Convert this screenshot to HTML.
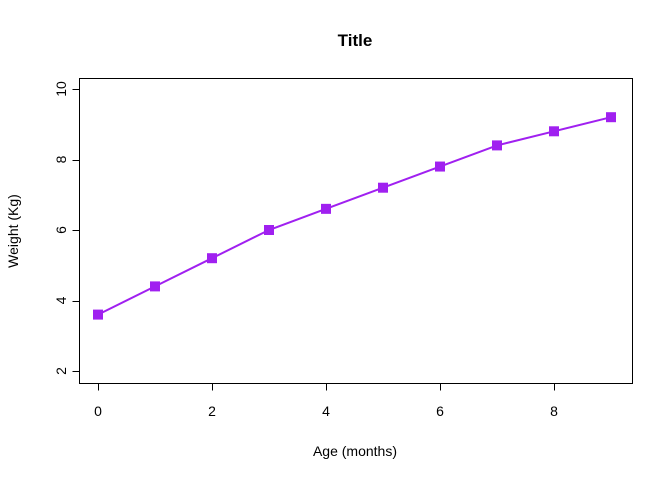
<!DOCTYPE html>
<html>
<head>
<meta charset="utf-8">
<style>
  html, body { margin: 0; padding: 0; background: #fff; }
  svg { display: block; font-family: "Liberation Sans", Arial, sans-serif; }
</style>
</head>
<body>
<svg id="chart" width="672" height="480" viewBox="0 0 672 480" xmlns="http://www.w3.org/2000/svg">
  <rect x="0" y="0" width="672" height="480" fill="#ffffff"/>
  <text x="355" y="46" text-anchor="middle" font-size="17" font-weight="bold" fill="#000">Title</text>
  <rect x="79.5" y="78.5" width="553" height="305" fill="none" stroke="#000" stroke-width="1"/>
  <text x="355" y="456" text-anchor="middle" font-size="14" fill="#000">Age (months)</text>
  <text transform="translate(18,231) rotate(-90)" text-anchor="middle" font-size="14" fill="#000">Weight (Kg)</text>
  <g id="axes"></g>
  <g id="series"></g>
</svg>
<script>
const ages = [0, 1, 2, 3, 4, 5, 6, 7, 8, 9];
const weights = [3.6, 4.4, 5.2, 6.0, 6.6, 7.2, 7.8, 8.4, 8.8, 9.2];
const xTicks = [0, 2, 4, 6, 8];
const yTicks = [2, 4, 6, 8, 10];

const NS = "http://www.w3.org/2000/svg";
function xScale(v) { return 98 + v * 57; }
function yScale(v) { return 371 - (v - 2) * 35.25; }
function mk(tag, attrs, parent) {
  const el = document.createElementNS(NS, tag);
  for (const k in attrs) el.setAttribute(k, attrs[k]);
  parent.appendChild(el);
  return el;
}
const axes = document.getElementById('axes');
const series = document.getElementById('series');

// x axis
const xAxis = mk('g', {}, axes);


mk('line', {x1: xScale(xTicks[0]), x2: xScale(xTicks[xTicks.length - 1]), y1: 383.5, y2: 383.5, stroke: '#000'}, xAxis);
xTicks.forEach(t => {
  const x = Math.round(xScale(t)) + 0.5;
  const tick = mk('line', {x1: x, x2: x, y1: 383.5, y2: 390.5, stroke: '#000'}, xAxis);
  
  
  const lab = mk('text', {x: xScale(t), y: 416, 'text-anchor': 'middle', 'font-size': 14, fill: '#000'}, xAxis);
  lab.textContent = t;
  
  
});

// y axis
const yAxis = mk('g', {}, axes);


mk('line', {x1: 79.5, x2: 79.5, y1: yScale(yTicks[0]), y2: yScale(yTicks[yTicks.length - 1]), stroke: '#000'}, yAxis);
yTicks.forEach(t => {
  const y = Math.round(yScale(t)) + 0.5;
  const tick = mk('line', {x1: 72.5, x2: 79.5, y1: y, y2: y, stroke: '#000'}, yAxis);
  
  
  const lab = mk('text', {transform: `translate(66,${yScale(t)}) rotate(-90)`, 'text-anchor': 'middle', 'font-size': 14, fill: '#000'}, yAxis);
  lab.textContent = t;
  
  
});

// line
const pts = ages.map((a, i) => xScale(a) + ',' + yScale(weights[i])).join(' ');
const line = mk('polyline', {points: pts, fill: 'none', stroke: '#A020F0', 'stroke-width': 2}, series);



// markers
ages.forEach((a, i) => {
  const s = 10;
  const m = mk('rect', {x: xScale(a) - s / 2, y: yScale(weights[i]) - s / 2, width: s, height: s, fill: '#A020F0'}, series);
  
  
});
</script>
</body>
</html>
